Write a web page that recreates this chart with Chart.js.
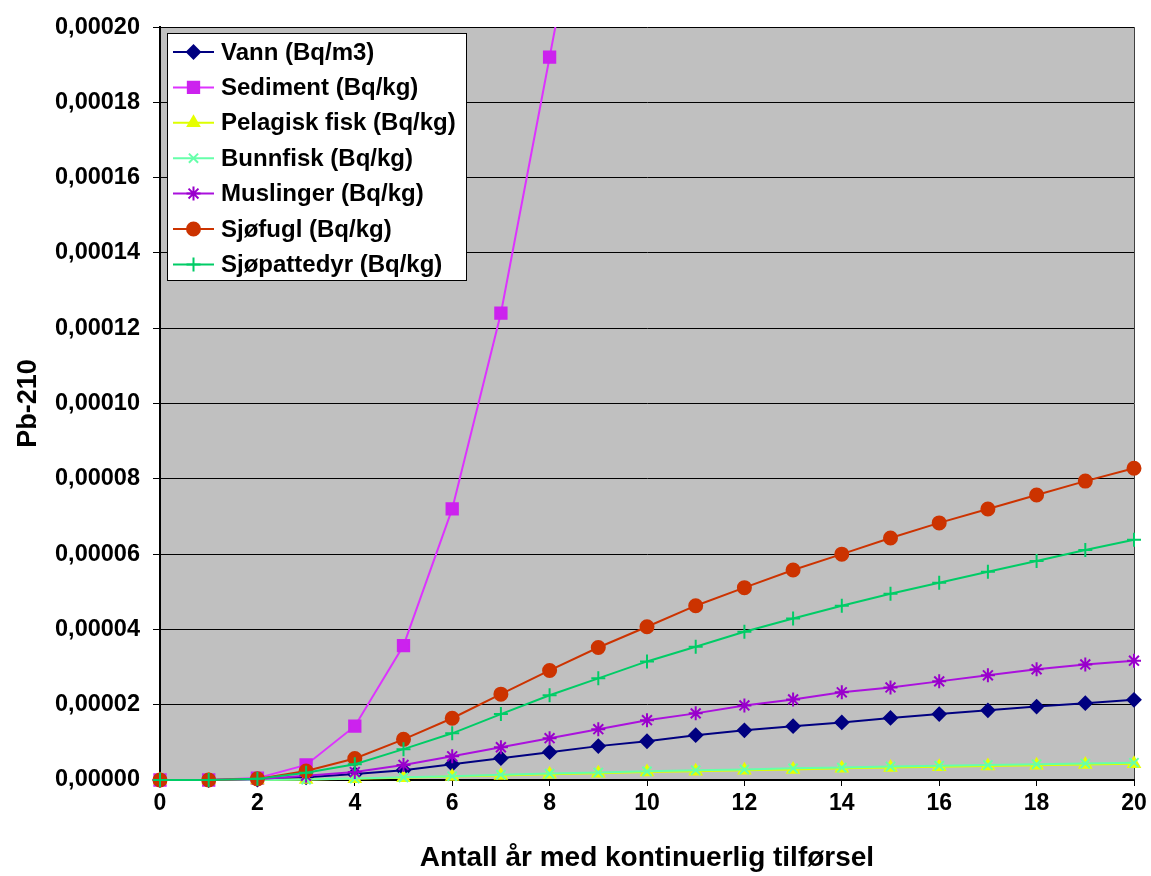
<!DOCTYPE html>
<html>
<head>
<meta charset="utf-8">
<title>Pb-210</title>
<script src="https://cdn.jsdelivr.net/npm/chart.js@4/dist/chart.umd.min.js"></script>
<style>
  html, body { margin: 0; padding: 0; background: #fff; }
  #wrap { width: 1151px; height: 876px; }
</style>
</head>
<body>
<div id="wrap"><canvas id="chart" width="1151" height="876"></canvas></div>
<script>
// ── Data ──────────────────────────────────────────────────────
const years = [0, 1, 2, 3, 4, 5, 6, 7, 8, 9, 10, 11, 12, 13, 14, 15, 16, 17, 18, 19, 20];

const vann = [0, 0, 0.0000001, 0.0000007, 0.0000016, 0.0000026, 0.0000042, 0.0000058, 0.0000074,
  0.000009, 0.0000103, 0.0000119, 0.0000132, 0.0000143, 0.0000153, 0.0000165, 0.0000175,
  0.0000185, 0.0000195, 0.0000204, 0.0000213];

// Sediment runs off the top of the axis after year 8
const sediment = [0, 0, 0.0000005, 0.000004, 0.0000143, 0.0000357, 0.000072, 0.000124, 0.000192, 0.00026];

const pelagiskFisk = [0, 0, 0, 0.0000001, 0.0000003, 0.0000006, 0.0000009, 0.0000012, 0.0000015,
  0.0000018, 0.0000021, 0.0000023, 0.0000026, 0.0000028, 0.0000031, 0.0000033, 0.0000035,
  0.0000037, 0.0000039, 0.0000041, 0.0000043];

const bunnfisk = [0, 0, 0, 0.0000001, 0.0000004, 0.0000007, 0.000001, 0.0000014, 0.0000017,
  0.000002, 0.0000023, 0.0000026, 0.0000028, 0.0000031, 0.0000033, 0.0000036, 0.0000038,
  0.000004, 0.0000042, 0.0000044, 0.0000046];

const muslinger = [0, 0, 0.0000002, 0.0000011, 0.0000021, 0.000004, 0.0000063, 0.0000087, 0.0000111,
  0.0000135, 0.0000159, 0.0000177, 0.0000198, 0.0000214, 0.0000233, 0.0000246, 0.0000262,
  0.0000278, 0.0000294, 0.0000307, 0.0000317];

const sjofugl = [0, 0, 0.0000003, 0.0000024, 0.0000057, 0.0000108, 0.0000164, 0.0000228, 0.0000291,
  0.0000352, 0.0000407, 0.0000463, 0.0000511, 0.0000558, 0.00006, 0.0000643, 0.0000683,
  0.000072, 0.0000757, 0.0000794, 0.0000828];

const sjopattedyr = [0, 0, 0.0000003, 0.0000019, 0.0000042, 0.0000082, 0.0000124, 0.0000175, 0.0000225,
  0.000027, 0.0000315, 0.0000354, 0.0000394, 0.0000429, 0.0000463, 0.0000495, 0.0000524,
  0.0000553, 0.0000582, 0.0000611, 0.0000638];

const yTicks = { min: 0, max: 0.0002, step: 0.00002 };
const xTicks = { min: 0, max: 20, step: 2 };

// ── Series styling ────────────────────────────────────────────
const series = [
  { label: 'Vann (Bq/m3)',           values: vann,         line: '#000080', fill: '#000080', style: 'rectRot',  r: 6.5 },
  { label: 'Sediment (Bq/kg)',       values: sediment,     line: '#DD33FF', fill: '#CC22EE', style: 'rect',     r: 8 },
  { label: 'Pelagisk fisk (Bq/kg)',  values: pelagiskFisk, line: '#DDFF00', fill: '#E6FF00', style: 'triangle', r: 6.5 },
  { label: 'Bunnfisk (Bq/kg)',       values: bunnfisk,     line: '#66FFAA', fill: '#66FFAA', style: 'crossRot', r: 6.5 },
  { label: 'Muslinger (Bq/kg)',      values: muslinger,    line: '#AA11DD', fill: '#9900CC', style: 'star',     r: 7 },
  { label: 'Sjøfugl (Bq/kg)',        values: sjofugl,      line: '#CC3300', fill: '#CC3300', style: 'circle',   r: 6.5 },
  { label: 'Sjøpattedyr (Bq/kg)',    values: sjopattedyr,  line: '#00CC66', fill: '#00CC66', style: 'cross',    r: 7 },
];

const FONT = "'Liberation Sans', Arial, sans-serif";

// ── Plot area background + frame ──────────────────────────────
const plotBackground = {
  id: 'plotBackground',
  beforeDraw(chart) {
    const { ctx, chartArea: a } = chart;
    ctx.save();
    ctx.fillStyle = '#C0C0C0';
    ctx.fillRect(a.left, a.top, a.right - a.left, a.bottom - a.top);
    ctx.strokeStyle = '#404040';
    ctx.lineWidth = 1;
    ctx.beginPath();
    ctx.moveTo(a.right + 0.5, a.top);
    ctx.lineTo(a.right + 0.5, a.bottom);
    ctx.stroke();
    ctx.restore();
  },
};

// ── Legend box drawn inside the plot, top-left ────────────────
const boxLegend = {
  id: 'boxLegend',
  afterDraw(chart) {
    const { ctx } = chart;
    const box = { x: 167, y: 33, w: 299, h: 247 };
    const rowTop = 52, rowGap = 35.4;

    ctx.save();
    ctx.fillStyle = '#fff';
    ctx.fillRect(box.x, box.y, box.w, box.h);
    ctx.strokeStyle = '#000';
    ctx.lineWidth = 1;
    ctx.strokeRect(box.x + 0.5, box.y + 0.5, box.w, box.h);

    ctx.font = `bold 24px ${FONT}`;
    ctx.textBaseline = 'middle';
    ctx.textAlign = 'left';

    chart.data.datasets.forEach((ds, i) => {
      const y = rowTop + i * rowGap;
      ctx.strokeStyle = ds.borderColor;
      ctx.lineWidth = 2;
      ctx.beginPath();
      ctx.moveTo(173, y);
      ctx.lineTo(214, y);
      ctx.stroke();

      ctx.fillStyle = ds.pointBackgroundColor;
      ctx.strokeStyle = ds.pointBorderColor;
      ctx.lineWidth = 2;
      Chart.helpers.drawPoint(ctx, {
        pointStyle: ds.pointStyle, radius: ds.pointRadius, borderWidth: 2, rotation: 0,
      }, 193.5, y);

      ctx.fillStyle = '#000';
      ctx.fillText(ds.label, 221, y + 1);
    });
    ctx.restore();
  },
};

const fmtTick = v => (Math.round(v * 1e5) / 1e5).toFixed(5).replace('.', ',');

new Chart(document.getElementById('chart').getContext('2d'), {
  type: 'line',
  data: {
    datasets: series.map((s, i) => ({
      label: s.label,
      data: s.values.map((v, j) => ({ x: years[j], y: v })),
      borderColor: s.line,
      borderWidth: 2,
      pointStyle: s.style,
      pointRadius: s.r,
      pointBackgroundColor: s.fill,
      pointBorderColor: s.fill,
      pointBorderWidth: 2,
      tension: 0,
      // let edge markers spill past the axes, but cut the line at the top
      clip: { left: 12, right: 12, top: 0, bottom: 12 },
      order: series.length - i,
    })),
  },
  options: {
    responsive: false,
    animation: false,
    layout: { padding: { top: 24, right: 17, left: 0, bottom: 0 } },
    plugins: {
      legend: { display: false },
      tooltip: { enabled: false },
    },
    scales: {
      x: {
        type: 'linear',
        min: xTicks.min, max: xTicks.max,
        afterFit(scale) { scale.height = 96; },
        ticks: {
          stepSize: xTicks.step,
          color: '#000',
          padding: 4,
          maxRotation: 0,
          font: { family: FONT, size: 23, weight: 'bold' },
        },
        grid: { drawOnChartArea: false, tickLength: 6, tickColor: '#000', tickWidth: 1 },
        border: { color: '#000', width: 2 },
        title: {
          display: true,
          text: 'Antall år med kontinuerlig tilførsel',
          color: '#000',
          font: { family: FONT, size: 28, weight: 'bold' },
          padding: { top: 0, bottom: 1 },
        },
      },
      y: {
        type: 'linear',
        min: yTicks.min, max: yTicks.max,
        afterFit(scale) { scale.width = 160; },
        ticks: {
          stepSize: yTicks.step,
          color: '#000',
          padding: 13,
          callback: fmtTick,
          font: { family: FONT, size: 23.5, weight: 'bold' },
        },
        grid: { color: '#000', lineWidth: 1, tickLength: 7, tickColor: '#000' },
        border: { color: '#000', width: 2 },
        title: {
          display: true,
          text: 'Pb-210',
          color: '#000',
          font: { family: FONT, size: 27, weight: 'bold' },
          padding: { top: 12, bottom: 0 },
        },
      },
    },
  },
  plugins: [plotBackground, boxLegend],
});
</script>
</body>
</html>
